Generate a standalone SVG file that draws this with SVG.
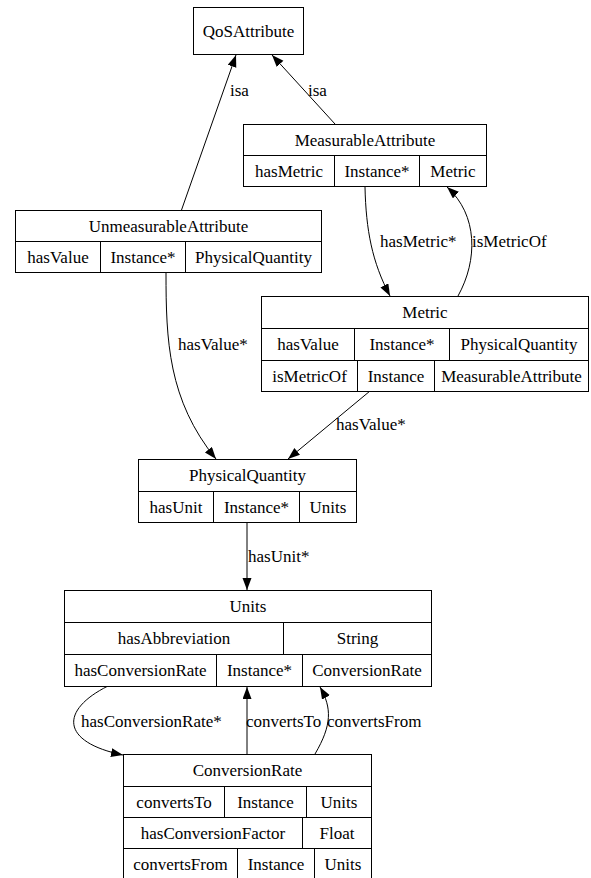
<svg xmlns="http://www.w3.org/2000/svg" width="591" height="878" viewBox="0 0 591 878" font-family="'Liberation Serif', 'DejaVu Serif', serif" font-size="17">
<style>
.box{fill:#fff;stroke:#000;stroke-width:1}
.ln{stroke:#000;stroke-width:1;fill:none}
text{font-family:'Liberation Serif','DejaVu Serif',serif;font-size:17px;fill:#000}
.c{text-anchor:middle}
.e{stroke:#000;stroke-width:1;fill:none;marker-end:url(#ah)}
</style>
<defs>
<marker id="ah" markerUnits="userSpaceOnUse" markerWidth="13" markerHeight="10" refX="12" refY="4.5" orient="auto">
<path d="M0,0 L12,4.5 L0,9 z" fill="#000"/>
</marker>
</defs>
<rect width="591" height="878" fill="#fff"/>
<g id="connectors">
<path class="e" d="M181.5,210 L236,55"/>
<path class="e" d="M335,124 L272,55"/>
<path class="e" d="M365,187 C366,230 372,262 390,296"/>
<path class="e" d="M458,296 C478,260 478,215 447,187"/>
<path class="e" d="M166,273 C166,340 168,400 216,459"/>
<path class="e" d="M370,391 L288,459"/>
<path class="e" d="M247,523 L247,590"/>
<path class="e" d="M108,686 C60,710 60,742 123,755"/>
<path class="e" d="M247,754 L247,687"/>
<path class="e" d="M315,754 C332,725 332,708 320,687"/>
<text x="230" y="96">isa</text>
<text x="308" y="96">isa</text>
<text x="380" y="247">hasMetric*</text>
<text x="472" y="247">isMetricOf</text>
<text x="178" y="350">hasValue*</text>
<text x="336" y="430">hasValue*</text>
<text x="248" y="562">hasUnit*</text>
<text x="81" y="727">hasConversionRate*</text>
<text x="246" y="727">convertsTo</text>
<text x="327" y="727">convertsFrom</text>
</g>
<g id="QoSAttribute">
<rect class="box" x="193.5" y="7.5" width="110" height="47"/>
<text class="c" x="248.5" y="37">QoSAttribute</text>
</g>
<g id="MeasurableAttribute">
<rect class="box" x="243.5" y="124.5" width="243" height="62"/>
<path class="ln" d="M243.5,155.5 H486.5 M334.5,155.5 V186.5 M419.5,155.5 V186.5"/>
<text class="c" x="365" y="146">MeasurableAttribute</text>
<text class="c" x="289" y="177">hasMetric</text>
<text class="c" x="377" y="177">Instance*</text>
<text class="c" x="453" y="177">Metric</text>
</g>
<g id="UnmeasurableAttribute">
<rect class="box" x="15.5" y="210.5" width="306" height="62"/>
<path class="ln" d="M15.5,241.5 H321.5 M100.5,241.5 V272.5 M185.5,241.5 V272.5"/>
<text class="c" x="168.5" y="232">UnmeasurableAttribute</text>
<text class="c" x="58" y="263">hasValue</text>
<text class="c" x="143" y="263">Instance*</text>
<text class="c" x="253.5" y="263">PhysicalQuantity</text>
</g>
<g id="Metric">
<rect class="box" x="261.5" y="296.5" width="327" height="95"/>
<path class="ln" d="M261.5,328.5 H588.5 M261.5,360.5 H588.5 M354.5,328.5 V360.5 M449.5,328.5 V360.5 M357.5,360.5 V391.5 M434.5,360.5 V391.5"/>
<text class="c" x="425" y="318">Metric</text>
<text class="c" x="308" y="350">hasValue</text>
<text class="c" x="402" y="350">Instance*</text>
<text class="c" x="519" y="350">PhysicalQuantity</text>
<text class="c" x="309.5" y="381.5">isMetricOf</text>
<text class="c" x="396" y="381.5">Instance</text>
<text class="c" x="511.5" y="381.5">MeasurableAttribute</text>
</g>
<g id="PhysicalQuantity">
<rect class="box" x="138.5" y="459.5" width="218" height="63"/>
<path class="ln" d="M138.5,491.5 H356.5 M213.5,491.5 V522.5 M299.5,491.5 V522.5"/>
<text class="c" x="247.5" y="481">PhysicalQuantity</text>
<text class="c" x="176" y="512.5">hasUnit</text>
<text class="c" x="256.5" y="512.5">Instance*</text>
<text class="c" x="328" y="512.5">Units</text>
</g>
<g id="Units">
<rect class="box" x="64.5" y="590.5" width="367" height="96"/>
<path class="ln" d="M64.5,622.5 H431.5 M64.5,654.5 H431.5 M283.5,622.5 V654.5 M216.5,654.5 V686.5 M302.5,654.5 V686.5"/>
<text class="c" x="248" y="612">Units</text>
<text class="c" x="174" y="644">hasAbbreviation</text>
<text class="c" x="357.5" y="644">String</text>
<text class="c" x="140.5" y="676">hasConversionRate</text>
<text class="c" x="259.5" y="676">Instance*</text>
<text class="c" x="367" y="676">ConversionRate</text>
</g>
<g id="ConversionRate">
<rect class="box" x="123.5" y="754.5" width="248" height="126"/>
<path class="ln" d="M123.5,786.5 H371.5 M123.5,817.5 H371.5 M123.5,848.5 H371.5 M224.5,786.5 V817.5 M306.5,786.5 V817.5 M302.5,817.5 V848.5 M237.5,848.5 V880 M314.5,848.5 V880"/>
<text class="c" x="247.5" y="776">ConversionRate</text>
<text class="c" x="174" y="807.5">convertsTo</text>
<text class="c" x="265.5" y="807.5">Instance</text>
<text class="c" x="339" y="807.5">Units</text>
<text class="c" x="213" y="838.5">hasConversionFactor</text>
<text class="c" x="337" y="838.5">Float</text>
<text class="c" x="180.5" y="869.5">convertsFrom</text>
<text class="c" x="276" y="869.5">Instance</text>
<text class="c" x="343" y="869.5">Units</text>
</g>
</svg>
